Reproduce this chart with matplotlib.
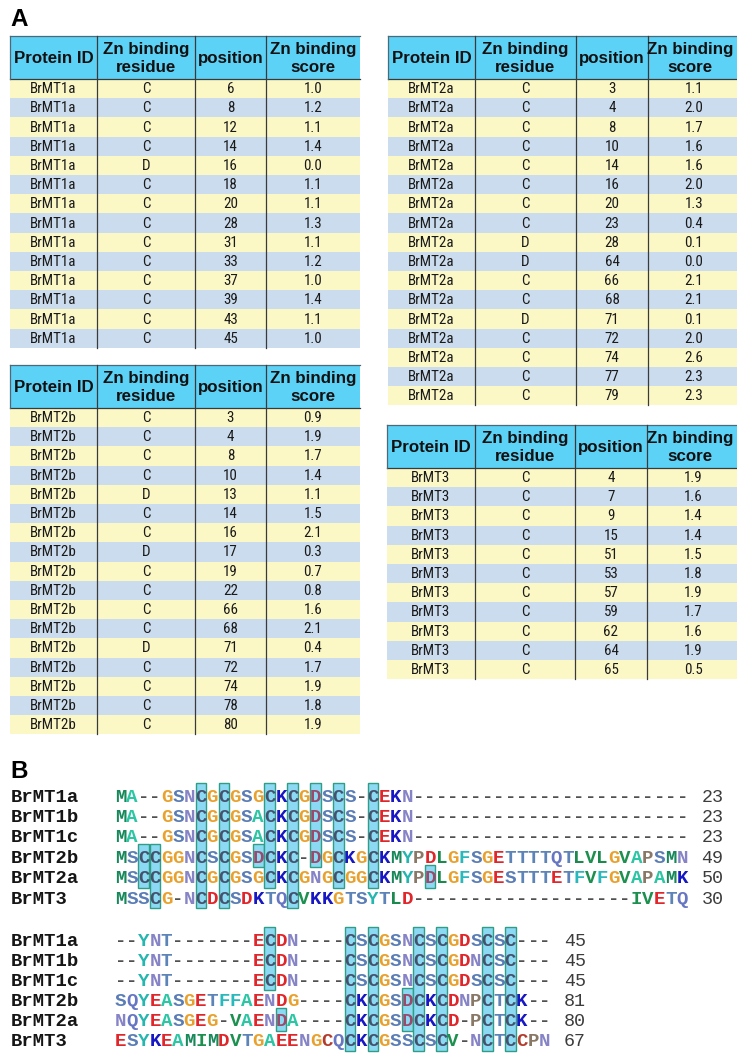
import matplotlib
matplotlib.use("Agg")
import matplotlib.pyplot as plt
from matplotlib.patches import Rectangle
from matplotlib import font_manager as fm

# ---------------- data: tables ----------------
t1_ids = ["BrMT1a"] * 14
t1_res = ["C", "C", "C", "C", "D", "C", "C", "C", "C", "C", "C", "C", "C", "C"]
t1_pos = [6, 8, 12, 14, 16, 18, 20, 28, 31, 33, 37, 39, 43, 45]
t1_score = [1.0, 1.2, 1.1, 1.4, 0.0, 1.1, 1.1, 1.3, 1.1, 1.2, 1.0, 1.4, 1.1, 1.0]

t2_ids = ["BrMT2a"] * 17
t2_res = ["C", "C", "C", "C", "C", "C", "C", "C", "D", "D", "C", "C", "D", "C", "C", "C", "C"]
t2_pos = [3, 4, 8, 10, 14, 16, 20, 23, 28, 64, 66, 68, 71, 72, 74, 77, 79]
t2_score = [1.1, 2.0, 1.7, 1.6, 1.6, 2.0, 1.3, 0.4, 0.1, 0.0, 2.1, 2.1, 0.1, 2.0, 2.6, 2.3, 2.3]

t3_ids = ["BrMT2b"] * 17
t3_res = ["C", "C", "C", "C", "D", "C", "C", "D", "C", "C", "C", "C", "D", "C", "C", "C", "C"]
t3_pos = [3, 4, 8, 10, 13, 14, 16, 17, 19, 22, 66, 68, 71, 72, 74, 78, 80]
t3_score = [0.9, 1.9, 1.7, 1.4, 1.1, 1.5, 2.1, 0.3, 0.7, 0.8, 1.6, 2.1, 0.4, 1.7, 1.9, 1.8, 1.9]

t4_ids = ["BrMT3"] * 11
t4_res = ["C"] * 11
t4_pos = [4, 7, 9, 15, 51, 53, 57, 59, 62, 64, 65]
t4_score = [1.9, 1.6, 1.4, 1.4, 1.5, 1.8, 1.9, 1.7, 1.6, 1.9, 0.5]

headers = [["Protein ID"], ["Zn binding", "residue"], ["position"], ["Zn binding", "score"]]

# ---------------- data: alignment ----------------
seq_names = ["BrMT1a", "BrMT1b", "BrMT1c", "BrMT2b", "BrMT2a", "BrMT3"]
block1 = [
    "MA--GSNCGCGSGCKCGDSCS-CEKN------------------------",
    "MA--GSNCGCGSACKCGDSCS-CEKN------------------------",
    "MA--GSNCGCGSACKCGDSCS-CEKN------------------------",
    "MSCCGGNCSCGSDCKC-DGCKGCKMYPDLGFSGETTTTQTLVLGVAPSMN",
    "MSCCGGNCGCGSGCKCGNGCGGCKMYPDLGFSGESTTTETFVFGVAPAMK",
    "MSSCG-NCDCSDKTQCVKKGTSYTLD-------------------IVETQ",
]
block1_ends = [23, 23, 23, 49, 50, 30]
block2 = [
    "--YNT-------ECDN----CSCGSNCSCGDSCSC---",
    "--YNT-------ECDN----CSCGSNCSCGDNCSC---",
    "--YNT-------ECDN----CSCGSNCSCGDSCSC---",
    "SQYEASGETFFAENDG----CKCGSDCKCDNPCTCK--",
    "NQYEASGEG-VAENDA----CKCGSDCKCD-PCTCK--",
    "ESYKEAMIMDVTGAEENGCQCKCGSSCSCV-NCTCCPN",
]
block2_ends = [45, 45, 45, 81, 80, 67]
# highlighted columns: (column 1-based, first row, last row)
block1_boxes = [(3, 3, 4), (4, 3, 5), (8, 0, 5), (10, 0, 5), (13, 3, 3), (14, 0, 4),
                (16, 0, 5), (18, 0, 3), (20, 0, 4), (23, 0, 4), (28, 4, 4)]
block2_boxes = [(14, 0, 2), (15, 4, 4), (21, 0, 5), (23, 0, 5), (26, 3, 4), (27, 0, 5),
                (29, 0, 5), (33, 0, 5), (35, 0, 5)]

res_colors = {
    "M": "#16885a", "A": "#2cc6a4", "G": "#e9a12e", "S": "#5a7db6", "N": "#8683c6",
    "C": "#b43a2c", "K": "#1717c4", "D": "#e0262a", "E": "#e0262a", "Y": "#26b6b0",
    "T": "#5d84b8", "Q": "#6776c2", "P": "#8a7866", "L": "#1c8a4e", "F": "#29b8bc",
    "V": "#1d9050", "I": "#1d9050", "-": "#505050",
}
boxed_colors = {"C": "#45526e", "D": "#9a4a6c"}

# ---------------- fonts ----------------
names = {f.name for f in fm.fontManager.ttflist}
narrow, body_fs = "Liberation Sans", 10.0
for cand, fs in [("Liberation Sans Narrow", 11.0), ("Arial Narrow", 11.0),
                 ("Roboto Condensed", 10.8), ("DejaVu Sans Condensed", 10.0),
                 ("Open Sans Condensed", 10.8)]:
    if cand in names:
        narrow, body_fs = cand, fs
        break

W, H = 737, 1053
fig = plt.figure(figsize=(W / 100, H / 100), dpi=100)
ax = fig.add_axes([0, 0, 1, 1])
ax.set_xlim(0, W)
ax.set_ylim(H, 0)
ax.axis("off")

HEADER_H = 43
ROW_H = 19.2


def draw_table(xe, top, ids, res, pos, score, last_cx=None):
    ax.add_patch(Rectangle((xe[0], top), xe[-1] - xe[0], HEADER_H, facecolor="#5dd2f7",
                           edgecolor="none", zorder=1))
    ax.plot([xe[0], xe[-1]], [top, top], color="#4a6a78", lw=0.9, zorder=3)
    ax.plot([xe[0], xe[-1]], [top + HEADER_H, top + HEADER_H], color="#3a3a3a", lw=0.9, zorder=3)
    ax.plot([xe[0], xe[0]], [top, top + HEADER_H], color="#4a6a78", lw=0.9, zorder=3)
    for j, lines in enumerate(headers):
        cx = (xe[j] + xe[j + 1]) / 2
        if j == len(headers) - 1 and last_cx is not None:
            cx = last_cx
        if len(lines) == 1:
            ax.text(cx, top + HEADER_H / 2 + 1, lines[0], ha="center", va="center",
                    fontsize=12.2, fontweight="bold", family="Liberation Sans", color="#111", zorder=4)
        else:
            for k, ln in enumerate(lines):
                ax.text(cx, top + 13.5 + 18 * k, ln, ha="center", va="center",
                        fontsize=12.2, fontweight="bold", family="Liberation Sans", color="#111", zorder=4)
    n = len(ids)
    for i in range(n):
        y0 = top + HEADER_H + i * ROW_H
        ax.add_patch(Rectangle((xe[0], y0), xe[-1] - xe[0], ROW_H,
                               facecolor="#fcf8c6" if i % 2 == 0 else "#cbdcee",
                               edgecolor="none", zorder=1))
        vals = [ids[i], res[i], str(pos[i]), "%.1f" % score[i]]
        for j, v in enumerate(vals):
            ax.text((xe[j] + xe[j + 1]) / 2, y0 + ROW_H / 2 + 0.5, v, ha="center", va="center",
                    fontsize=body_fs, family=narrow, color="#1a1a1a", zorder=4)
    bottom = top + HEADER_H + n * ROW_H
    for x in xe[1:-1]:
        ax.plot([x, x], [top, bottom], color="#3a3a3a", lw=0.9, zorder=3)


draw_table([10, 97, 195, 266, 360], 36, t1_ids, t1_res, t1_pos, t1_score)
draw_table([388, 475, 576, 648, 740], 36, t2_ids, t2_res, t2_pos, t2_score, last_cx=690)
draw_table([10, 97, 195, 266, 360], 365, t3_ids, t3_res, t3_pos, t3_score)
draw_table([387, 475, 575, 647, 740], 425, t4_ids, t4_res, t4_pos, t4_score, last_cx=690)

ax.text(10, 19, "A", ha="left", va="center", fontsize=17.5, fontweight="bold",
        family="Liberation Sans", color="#000")
ax.text(10, 772, "B", ha="left", va="center", fontsize=17.5, fontweight="bold",
        family="Liberation Sans", color="#000")

# ---------------- alignment ----------------
COL_W = 11.46
X0 = 115
SEQ_FS = 13.75


def draw_block(seqs, ends, boxes, y_first, dy):
    boxed = set()
    for col, r0, r1 in boxes:
        xl = X0 + (col - 1) * COL_W + 0.4
        yt = y_first + r0 * dy - 12
        yb = y_first + r1 * dy + 11
        ax.add_patch(Rectangle((xl, yt), COL_W - 0.8, yb - yt, facecolor="#8cd9f3",
                               edgecolor="#2e9e86", lw=1.0, zorder=2))
        for r in range(r0, r1 + 1):
            boxed.add((r, col))
    for r, s in enumerate(seqs):
        y = y_first + r * dy
        ax.text(11, y, seq_names[r], ha="left", va="center_baseline", fontsize=13.6,
                fontweight="bold", family="Liberation Mono", color="#151515", zorder=5)
        for c, ch in enumerate(s):
            col = c + 1
            colr = res_colors.get(ch, "#333")
            if (r, col) in boxed and ch in boxed_colors:
                colr = boxed_colors[ch]
            ax.text(X0 + (col - 0.5) * COL_W, y, ch, ha="center", va="center_baseline",
                    fontsize=SEQ_FS, fontweight="bold", family="Liberation Mono",
                    color=colr, zorder=5)
        ax.text(X0 + len(s) * COL_W + 13.5, y, str(ends[r]), ha="left", va="center_baseline",
                fontsize=13.2, family="Liberation Mono", color="#3c3c3c", zorder=5)


draw_block(block1, block1_ends, block1_boxes, 795, 20.4)
draw_block(block2, block2_ends, block2_boxes, 939, 20.2)

fig.savefig("out.png", dpi=100)
